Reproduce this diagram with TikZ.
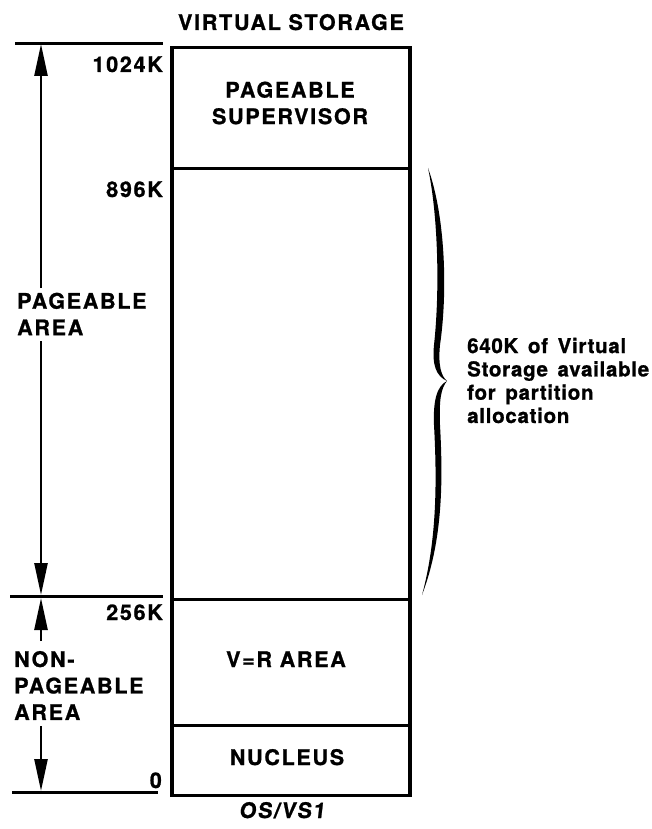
\documentclass[tikz,border=0pt]{standalone}
\usepackage{fontspec}
\setmainfont{TeX Gyre Heros}
\newfontfamily\capsf{texgyreheros-bold.otf}[LetterSpace=8,FakeBold=1]
\newfontfamily\notef{texgyreheros-bold.otf}[LetterSpace=3.5,WordSpace=1.5,FakeBold=1]
\usetikzlibrary{arrows.meta}
\begin{document}
\begin{tikzpicture}[x=1pt,y=-1pt,
  capsfont/.style={font=\capsf\fontsize{21.5}{26.5}\selectfont, inner sep=0pt},
  notefont/.style={font=\notef\fontsize{20.5}{23.3}\selectfont, inner sep=0pt},
  boxline/.style={line width=3.5pt},
  refline/.style={line width=3pt},
  dimarrow/.style={line width=2.5pt, -{Triangle[length=32pt,width=13pt]}}]
\useasboundingbox (0,0) rectangle (652,829);
% column
\node[draw, boxline, minimum width=238pt, minimum height=121pt, anchor=north west, inner sep=0pt] (sup) at (170,46) {};
\node[draw, boxline, minimum width=238pt, minimum height=430.5pt, anchor=north west, inner sep=0pt] (part) at (170,167) {};
\node[draw, boxline, minimum width=238pt, minimum height=126pt, anchor=north west, inner sep=0pt] (vr) at (170,597.5) {};
\node[draw, boxline, minimum width=238pt, minimum height=70pt, anchor=north west, inner sep=0pt] (nuc) at (170,723.5) {};
% texts in column
\node[capsfont, align=center] (tsup) at (290,103) {PAGEABLE\\SUPERVISOR};
\node[capsfont, anchor=base] (tvr) at (286,667) {V=R AREA};
\node[capsfont, anchor=base] (tnuc) at (287,765) {NUCLEUS};
\node[capsfont, anchor=base] (title) at (291,30) {VIRTUAL STORAGE};
\node[capsfont, anchor=base] (os) at (282,818) {\addfontfeature{FakeSlant=0.12}OS/VS1};
% address labels
\node[capsfont, anchor=base east] (l1024) at (163,72) {1024K};
\node[capsfont, anchor=base east] (l896) at (163,197) {896K};
\node[capsfont, anchor=base east] (l256) at (163,620) {256K};
\node[capsfont, anchor=base east] (l0) at (162,788) {0};
% left reference lines
\coordinate (h1a) at (15,43.5);  \coordinate (h1b) at (163,43.5);
\coordinate (h2a) at (10,596);   \coordinate (h2b) at (163,596);
\coordinate (h3a) at (12,792);   \coordinate (h3b) at (158,792);
\draw[refline] (h1a) -- (h1b);
\draw[refline] (h2a) -- (h2b);
\draw[refline] (h3a) -- (h3b);
% pageable area
\node[capsfont, align=left, anchor=west] (tpa) at (17,314) {PAGEABLE\\AREA};
\coordinate (pa1) at (41,288);
\coordinate (pa2) at (41,341);
\draw[dimarrow] (pa1) -- (41,44);
\draw[dimarrow] (pa2) -- (41,595);
% non-pageable area
\node[capsfont, align=left, anchor=west] (tnpa) at (14,685.5) {NON-\\PAGEABLE\\AREA};
\coordinate (np1) at (41,641);
\coordinate (np2) at (41,726);
\draw[dimarrow] (np1) -- (41,598);
\draw[dimarrow] (np2) -- (41,791);
% brace
\fill (428,168) .. controls (445,215) and (448,290) .. (440,345)
  .. controls (438,365) and (441,376) .. (447,381)
  .. controls (441,388) and (439,400) .. (440,425)
  .. controls (443,480) and (443,540) .. (422,595)
  .. controls (437,540) and (437,480) .. (434,425)
  .. controls (433,400) and (437,386) .. (447,381)
  .. controls (436,376) and (432,365) .. (434,345)
  .. controls (440,290) and (438,215) .. (428,168) -- cycle;
\coordinate (tip) at (447,381);
\node[notefont, align=left, anchor=west] (note) at (467,380.5) {640K of Virtual\\Storage available\\for partition\\allocation};
\end{tikzpicture}
\end{document}
